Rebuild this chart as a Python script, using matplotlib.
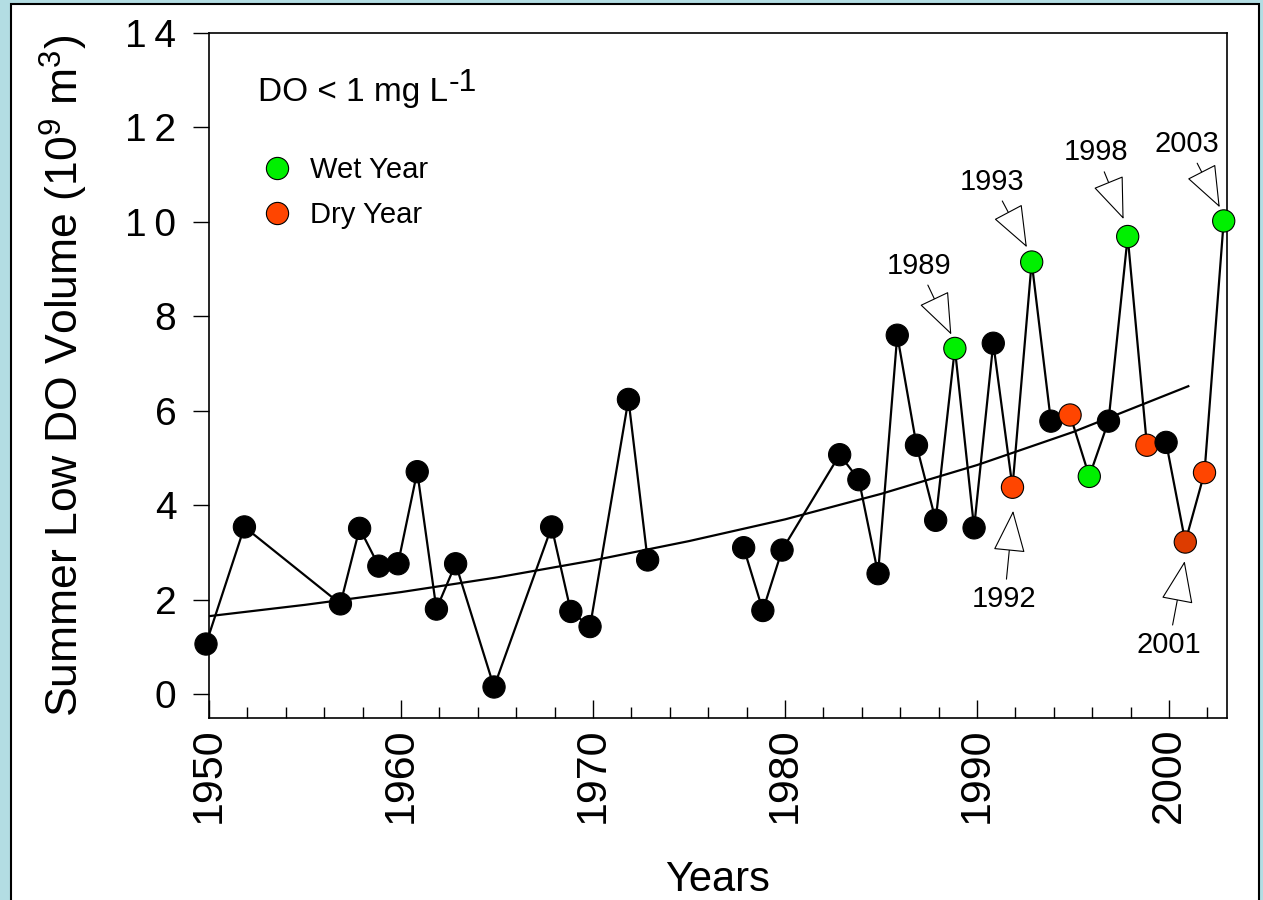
import numpy as np
import matplotlib
matplotlib.use("Agg")
from matplotlib import pyplot as plt
from matplotlib import transforms
from matplotlib.lines import Line2D
from matplotlib.patches import Rectangle
from matplotlib.ticker import MultipleLocator, FixedLocator

plt.rcParams['font.family'] = ['Liberation Sans', 'DejaVu Sans']
plt.rcParams['mathtext.default'] = 'regular'

# Dados
anos = [1950, 1952, 1957, 1958, 1959, 1960, 1961, 1962, 1963, 1965, 1968, 1969, 1970,
        1972, 1973, 1978, 1979, 1980, 1983, 1984, 1985, 1986, 1987, 1988, 1989, 1990,
        1991, 1992, 1993, 1994, 1995, 1996, 1997, 1998, 1999, 2000, 2001, 2002, 2003]
volume = [1.06, 3.54, 1.91, 3.51, 2.71, 2.76, 4.71, 1.80, 2.76, 0.15, 3.54, 1.75, 1.43,
          6.24, 2.84, 3.10, 1.77, 3.05, 5.07, 4.54, 2.55, 7.60, 5.27, 3.68, 7.32, 3.52,
          7.43, 4.38, 9.15, 5.78, 5.91, 4.61, 5.78, 9.69, 5.27, 5.33, 3.22, 4.69, 10.02]
# n = normal, w = wet year, d = dry year
tipo = ['n'] * 24 + ['w', 'n', 'n', 'd', 'w', 'n', 'd', 'w', 'n', 'w', 'd', 'n', 'd', 'd', 'w']
quebra_linha = [1973]  # a linha não liga 1973 a 1978

# curva de tendência
anos_tend = [1950, 1955, 1960, 1965, 1970, 1975, 1980, 1985, 1990, 1995, 2001]
vol_tend = [1.65, 1.89, 2.16, 2.47, 2.83, 3.24, 3.70, 4.24, 4.85, 5.55, 6.52]

# anos destacados
anos_destaque = [1989, 1993, 1998, 2003, 1992, 2001]
texto_x = [1986.96, 1990.78, 1996.21, 2000.95, 1991.43, 1999.99]
texto_y = [9.07, 10.85, 11.47, 11.65, 2.02, 1.05]
recuo = [11, 12, 13.5, 11, 17, 14]

y_ticks = [0, 2, 4, 6, 8, 10, 12, 14]
y_labels = ['0', '2', '4', '6', '8', '1\u20090', '1\u20092', '1\u20094']

cores = {'n': 'black', 'w': '#00f000', 'd': '#ff4500'}
cor_especial = {2001: '#dd3c00'}

fig = plt.figure(figsize=(12.63, 9.0), dpi=100)
fig.patch.set_facecolor('#b3dde3')
fig.patches.append(Rectangle((11 / 1263, -0.05), 1248 / 1263, 1.05 - 4 / 900,
                             transform=fig.transFigure, facecolor='white',
                             edgecolor='black', lw=1.5, zorder=-10))

ax = fig.add_axes([0.16548, 0.20256, 0.80578, 0.76078])
ax.set_facecolor('white')

# no original os pontos ficam um pouco à esquerda dos ticks
desloc = ax.transData + transforms.ScaledTranslation(-3 / 100, 0, fig.dpi_scale_trans)

# linha ligando os pontos (com quebra)
xs, ys = [], []
for a, v in zip(anos, volume):
    xs.append(a)
    ys.append(v)
    if a in quebra_linha:
        xs.append(np.nan)
        ys.append(np.nan)
ax.plot(xs, ys, color='black', lw=1.6, zorder=2, transform=desloc, clip_on=False)

ax.plot(anos_tend, vol_tend, color='black', lw=1.6, zorder=1)

cor_pontos = [cor_especial.get(a, cores[t]) for a, t in zip(anos, tipo)]
ax.scatter(anos, volume, s=16 ** 2, c=cor_pontos, edgecolors='black',
           linewidths=0.8, zorder=3, clip_on=False, transform=desloc)

for a, tx, ty, r in zip(anos_destaque, texto_x, texto_y, recuo):
    v = volume[anos.index(a)]
    ax.annotate(str(a), xy=(a, v), xytext=(tx, ty), fontsize=21,
                ha='center', va='center', zorder=4,
                arrowprops=dict(arrowstyle='-|>,head_length=1.3,head_width=0.5',
                                fc='white', ec='black', lw=0.8,
                                shrinkA=2, shrinkB=r))

t_do = ax.text(1952.57, 12.55, 'DO < 1 mg L', fontsize=24, ha='left', va='baseline')
ax.annotate('-1', xy=(1, 0), xycoords=t_do, xytext=(0.5, 12.5),
            textcoords='offset points', fontsize=23, ha='left', va='baseline')

handles = [Line2D([], [], marker='o', ls='none', markersize=16, mfc=cores['w'],
                  mec='black', mew=0.8, label='Wet Year'),
           Line2D([], [], marker='o', ls='none', markersize=16, mfc=cores['d'],
                  mec='black', mew=0.8, label='Dry Year')]
ax.legend(handles=handles, loc='upper left', bbox_to_anchor=(0.0527, 0.8204),
          frameon=False, fontsize=21, handlelength=1.0, handletextpad=0.62,
          borderpad=0, borderaxespad=0, labelspacing=0.6)

ax.set_xlim(1950, 2003)
ax.set_ylim(-0.5, 14)
ax.xaxis.set_major_locator(MultipleLocator(10))
ax.xaxis.set_minor_locator(MultipleLocator(2))
ax.yaxis.set_major_locator(FixedLocator(y_ticks))
ax.set_yticklabels(y_labels)

ax.tick_params(axis='x', which='major', direction='in', length=12.7, width=1,
               pad=7, labelsize=31, labelrotation=90, top=False)
ax.tick_params(axis='x', which='minor', direction='in', length=7.9, width=1, top=False)
ax.tick_params(axis='y', direction='out', length=11.5, width=1, pad=12,
               labelsize=28, right=False)
for s in ax.spines.values():
    s.set_linewidth(1.2)

ax.set_xlabel('Years', fontsize=30)
ax.set_ylabel(r'Summer Low DO Volume (10$^9$ m$^3$)', fontsize=32)
ax.xaxis.set_label_coords(0.5, -0.208)
ax.yaxis.set_label_coords(-0.117, 0.5)

fig.savefig('out.png', dpi=100, facecolor=fig.get_facecolor())
